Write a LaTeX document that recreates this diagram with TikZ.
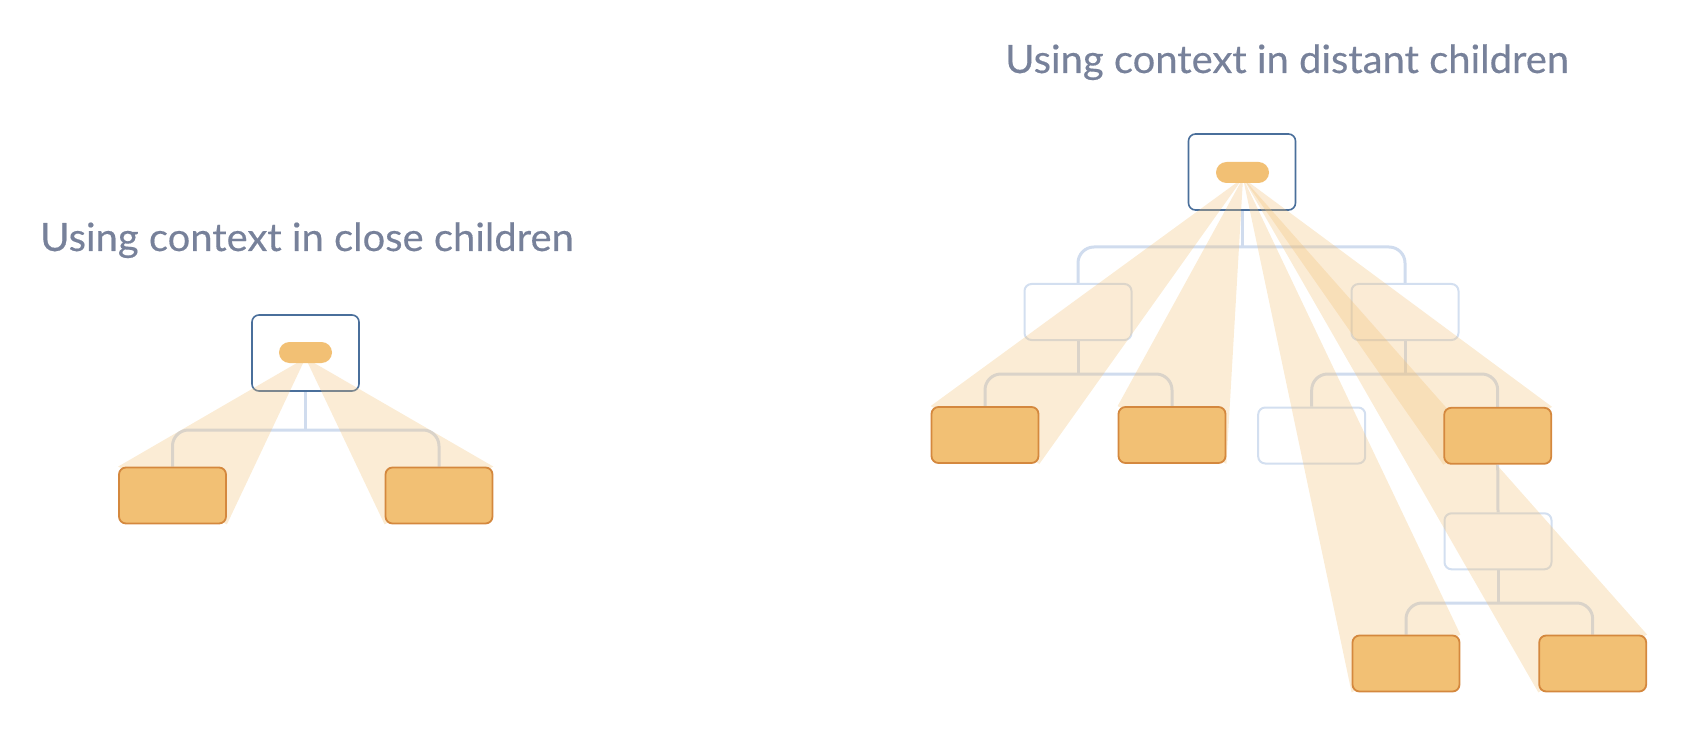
\documentclass[tikz,border=0pt]{standalone}
\usepackage{fontspec}
\setmainfont{Lato}
\newfontfamily\titlefont[FakeStretch=1.025, FakeBold=0.35]{Lato}
\definecolor{titlec}{HTML}{77819A}
\definecolor{rootc}{HTML}{4A6F9B}
\definecolor{orangeF}{HTML}{F2C074}
\definecolor{orangeD}{HTML}{D4883E}
\definecolor{lightc}{HTML}{D3DFF0}
\definecolor{connc}{HTML}{D0DCEE}
\pgfdeclarelayer{bg}
\pgfdeclarelayer{beams}
\pgfdeclarelayer{front}
\pgfsetlayers{bg,main,beams,front}
\tikzset{
  rootbox/.style={draw=rootc, fill=white, line width=1.6pt, rounded corners=7pt,
    minimum width=107pt, minimum height=76pt, inner sep=0pt},
  pillbox/.style={fill=orangeF, rounded corners=10.5pt, minimum width=53pt,
    minimum height=21pt, inner sep=0pt},
  leafbox/.style={draw=orangeD, fill=orangeF, line width=1.8pt, rounded corners=7pt,
    minimum width=107pt, minimum height=56pt, inner sep=0pt,
    preaction={fill=orangeD, yshift=-1.3pt}},
  lightbox/.style={draw=lightc, fill=white, line width=2pt, rounded corners=7pt,
    minimum width=107pt, minimum height=56pt, inner sep=0pt},
  conn/.style={draw=connc, line width=3pt, rounded corners=16pt},
  beam/.style={fill=orangeF, fill opacity=0.3},
  titletext/.style={text=titlec, font=\titlefont\fontsize{39}{47}\selectfont, inner sep=0pt}
}
\begin{document}
\begin{tikzpicture}[x=1pt, y=-1pt]
\useasboundingbox (0,0) rectangle (1682,730);

% titles
\node[titletext, anchor=base west] (tl) at (40,251) {Using context in close children};
\node[titletext, anchor=base west] (tr) at (1005,73) {Using context in distant children};

% ---------- main layer: roots, pills, light boxes ----------
\node[rootbox] (rootL) at (305.5,353) {};
\node[pillbox] (pillL) at (305.5,352.5) {};
\node[rootbox] (rootR) at (1242,172) {};
\node[pillbox] (pillR) at (1242.5,172.5) {};
\node[lightbox] (L1) at (1078,312) {};
\node[lightbox] (L2) at (1405,312) {};
\node[lightbox] (L3) at (1311.7,435.5) {};
\node[lightbox] (L4) at (1498,541.3) {};

% apex points of the beams
\coordinate (apL) at (305.5,358);
\coordinate (apR) at (1243,178);

% ---------- front layer: orange leaves ----------
\begin{pgfonlayer}{front}
\node[leafbox] (cL1) at (172.5,495.5) {};
\node[leafbox] (cL2) at (439,495.5) {};
\node[leafbox] (O1) at (985,435) {};
\node[leafbox] (O2) at (1172,435) {};
\node[leafbox] (O3) at (1497.7,435.8) {};
\node[leafbox] (O4) at (1406,663.5) {};
\node[leafbox] (O5) at (1592.7,663.5) {};
\end{pgfonlayer}

% ---------- connectors ----------
\coordinate (barL) at (305.5,430);
\coordinate (barR1) at (1242,247);
\coordinate (barR2a) at (1078,374);
\coordinate (barR2b) at (1405,374);
\coordinate (barR3) at (1498,603);
\begin{pgfonlayer}{bg}
\draw[conn] (rootL.south) -- (barL);
\draw[conn] (cL1.north) |- (barL) -| (cL2.north);
\draw[conn] (rootR.south) -- (barR1);
\draw[conn] (L1.north) |- (barR1) -| (L2.north);
\draw[conn] (L1.south) -- (barR2a);
\draw[conn] (O1.north) |- (barR2a) -| (O2.north);
\draw[conn] (L2.south) -- (barR2b);
\draw[conn] (L3.north) |- (barR2b) -| (O3.north);
\draw[conn] (O3.south) -- (L4.north);
\draw[conn] (L4.south) -- (barR3);
\draw[conn] (O4.north) |- (barR3) -| (O5.north);
\end{pgfonlayer}

% ---------- beams ----------
\begin{pgfonlayer}{beams}
\fill[beam] (apL) -- (cL1.north west) -- (cL1.south east) -- cycle;
\fill[beam] (apL) -- (cL2.north east) -- (cL2.south west) -- cycle;
\fill[beam] (apR) -- (O1.north west) -- (O1.south east) -- cycle;
\fill[beam] (apR) -- (O2.north west) -- (O2.south east) -- cycle;
\fill[beam] (apR) -- (O3.north east) -- (O3.south west) -- cycle;
\fill[beam] (apR) -- (O4.north east) -- (O4.south west) -- cycle;
\fill[beam] (apR) -- (O5.north east) -- (O5.south west) -- cycle;
\end{pgfonlayer}
\end{tikzpicture}
\end{document}
